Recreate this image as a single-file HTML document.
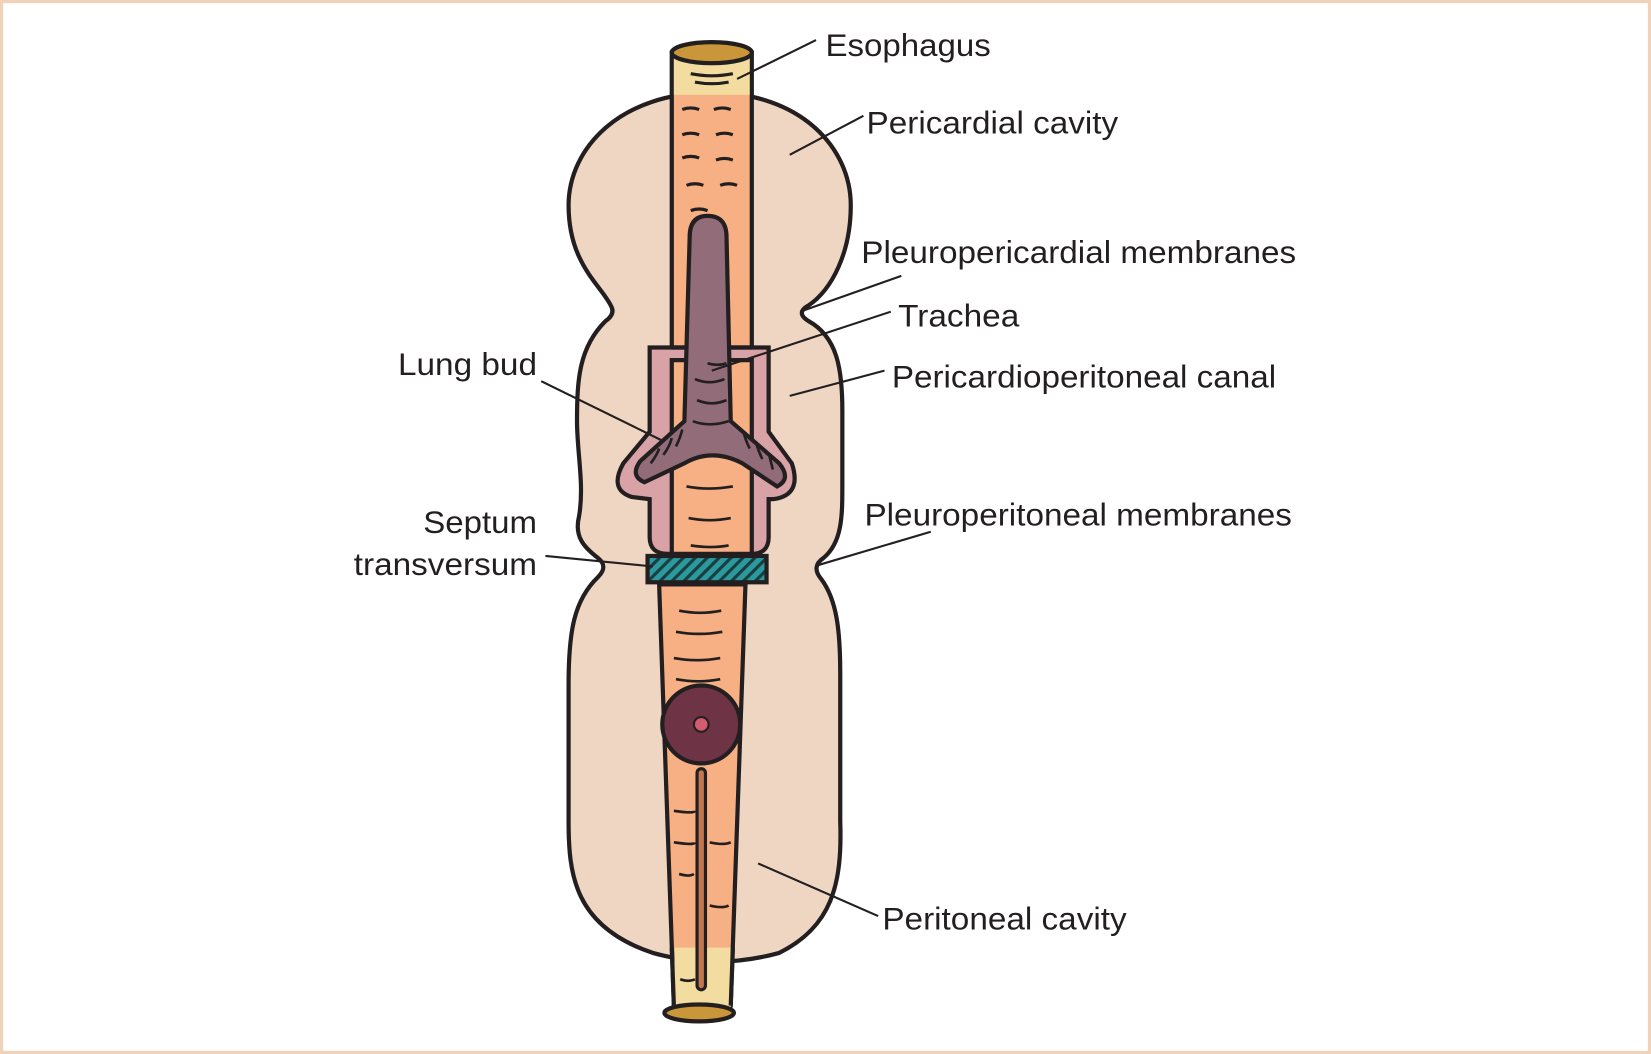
<!DOCTYPE html>
<html><head><style>html,body{margin:0;padding:0;background:#fff}svg{display:block}</style></head>
<body>
<svg width="1651" height="1054" viewBox="0 0 1568 1001" preserveAspectRatio="none" xmlns="http://www.w3.org/2000/svg" font-family="Liberation Sans, sans-serif" font-size="30" fill="#231f20">
<defs>
<pattern id="h" width="8" height="8" patternUnits="userSpaceOnUse" patternTransform="rotate(45)"><rect width="8" height="8" fill="#2a9a9c"/><rect width="3" height="8" fill="#1b3c40"/></pattern>
</defs>
<rect x="1.5" y="1.5" width="1565" height="998" fill="#fff" stroke="#f0d2b8" stroke-width="3"/>
<path d="M676 88 C 590 88 540 140 540 195 C 540 250 570 270 580 290 Q 585 298 575 305 C 550 330 548 360 548 400 C 548 430 555 460 550 490 C 545 510 555 520 568 530 Q 578 538 568 548 C 545 570 540 600 540 650 L 540 780 C 540 830 545 880 620 905 C 660 916 700 916 740 905 C 790 880 800 840 798 780 L 798 640 C 798 600 795 570 780 550 Q 770 538 782 530 C 800 515 800 490 800 460 L 800 390 C 800 350 795 320 768 305 Q 755 297 768 290 C 790 275 808 240 808 195 C 808 140 760 88 676 88 Z" fill="#efd6c2" stroke="#231f20" stroke-width="4"/>
<rect x="638" y="50" width="76" height="290" fill="#f7b083" stroke="#231f20" stroke-width="4"/>
<rect x="640" y="52" width="72" height="38" fill="#f3dca0"/>
<ellipse cx="676" cy="50" rx="38" ry="10" fill="#c9963a" stroke="#231f20" stroke-width="4"/>
<g stroke="#231f20" stroke-width="3" fill="none">
<path d="M656 70 q20 4 40 0 M660 78 q16 3 32 0 M648 104 q8-3 16 0 M678 104 q8-3 16 0 M648 128 q8-3 16 0 M680 128 q8-3 16 0 M648 150 q8-3 16 0 M680 152 q8-3 16 0 M652 176 q8-3 16 0 M684 176 q8-3 16 0 M656 200 q8-3 16 0"/>
</g>
<path d="M617 330 L730 330 L730 410 L752 440 Q762 470 735 474 L730 474 L730 510 Q730 526 714 526 L634 526 Q617 526 617 510 L617 474 L600 472 Q578 465 592 440 L617 410 Z" fill="#d8a2a6" stroke="#231f20" stroke-width="4"/>
<path d="M638 342 L714 342 L714 526 L638 526 Z" fill="#f7b083" stroke="#231f20" stroke-width="4"/>
<path d="M638 330 L714 330" stroke="#231f20" stroke-width="4"/>
<path d="M655 225 Q655 205 672 205 Q690 205 690 225 L694 400 L740 440 Q752 455 738 462 L705 440 Q676 425 650 440 L612 458 Q598 452 608 438 L650 400 Z" fill="#926c79" stroke="#231f20" stroke-width="4"/>
<g stroke="#231f20" stroke-width="2.5" fill="none">
<path d="M660 360 q14 6 28 0 M662 380 q14 6 28 0 M658 400 q16 6 34 0 M672 345 q10 3 18 0 M618 440 q6 -8 8 -14 M630 432 q6-8 8-16 M642 424 q4-8 6-16 M706 410 q2 8 6 16 M718 420 q2 8 6 16 M730 430 q2 8 4 16 M652 462 q20 4 44 0 M654 492 q20 4 40 0 M656 518 q20 3 36 0"/>
</g>
<rect x="615" y="528" width="113" height="25" fill="url(#h)" stroke="#231f20" stroke-width="4"/>
<path d="M626 555 L708 555 L694 955 L640 955 Z" fill="#f7b083" stroke="#231f20" stroke-width="4"/>
<path d="M641 900 L694 900 L694 958 L640 958 Z" fill="#f3dca0"/>
<path d="M640 955 L638 900 M694 955 L696 900" stroke="#231f20" stroke-width="4"/>
<ellipse cx="664" cy="962" rx="33" ry="8" fill="#c9963a" stroke="#231f20" stroke-width="4"/>
<g stroke="#231f20" stroke-width="2.5" fill="none">
<path d="M645 580 q20 4 40 0 M642 600 q22 4 44 0 M640 625 q22 4 44 0 M642 645 q22 4 42 0 M640 770 q20 3 20 0 M640 800 q20 3 20 0 M674 800 q14 3 20 0 M645 830 q10 3 14 0 M674 860 q12 3 18 0 M646 930 q8 3 14 0"/>
</g>
<circle cx="666" cy="688" r="37" fill="#6e3345" stroke="#231f20" stroke-width="4"/>
<circle cx="666" cy="688" r="7" fill="#d25b6d" stroke="#231f20" stroke-width="2"/>
<rect x="662" y="730" width="8" height="210" rx="4" fill="#c07850" stroke="#231f20" stroke-width="3"/>
<g stroke="#231f20" stroke-width="2" fill="none">
<line x1="700" y1="75" x2="775" y2="38"/>
<line x1="750" y1="147" x2="820" y2="110"/>
<line x1="760" y1="296" x2="856" y2="262"/>
<line x1="676" y1="352" x2="846" y2="296"/>
<line x1="750" y1="376" x2="840" y2="352"/>
<line x1="514" y1="362" x2="628" y2="418"/>
<line x1="776" y1="537" x2="884" y2="505"/>
<line x1="518" y1="528" x2="620" y2="538"/>
<line x1="720" y1="820" x2="834" y2="870"/>
</g>
<text x="784" y="53" textLength="157" lengthAdjust="spacingAndGlyphs">Esophagus</text>
<text x="823" y="127" textLength="239" lengthAdjust="spacingAndGlyphs">Pericardial cavity</text>
<text x="818" y="250" textLength="413" lengthAdjust="spacingAndGlyphs">Pleuropericardial membranes</text>
<text x="853" y="310" textLength="115" lengthAdjust="spacingAndGlyphs">Trachea</text>
<text x="847" y="368" textLength="365" lengthAdjust="spacingAndGlyphs">Pericardioperitoneal canal</text>
<text x="378" y="356" textLength="132" lengthAdjust="spacingAndGlyphs">Lung bud</text>
<text x="821" y="499" textLength="406" lengthAdjust="spacingAndGlyphs">Pleuroperitoneal membranes</text>
<text x="402" y="506" textLength="108" lengthAdjust="spacingAndGlyphs">Septum</text>
<text x="336" y="546" textLength="174" lengthAdjust="spacingAndGlyphs">transversum</text>
<text x="838" y="883" textLength="232" lengthAdjust="spacingAndGlyphs">Peritoneal cavity</text>
</svg>
</body></html>
